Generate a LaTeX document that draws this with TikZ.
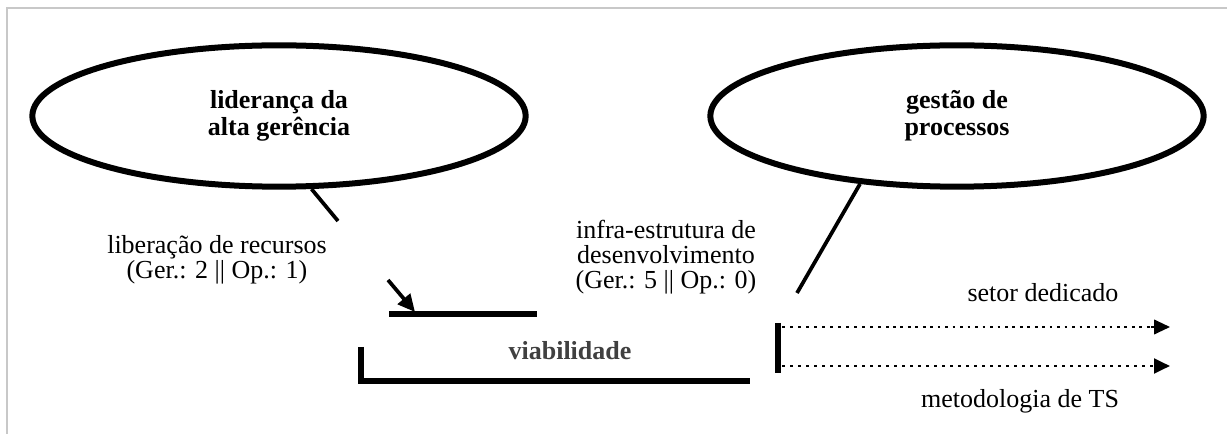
\documentclass[tikz,border=0pt]{standalone}
\usepackage{fontspec}
\setmainfont{Liberation Serif}
\usetikzlibrary{shapes.geometric,arrows.meta}

\tikzset{every picture/.style={line width=0.75pt}}
\tikzset{
  bubble/.style={draw,ellipse,line width=4.5pt,inner sep=0pt,minimum width=370pt,minimum height=106pt,align=center,font=\bfseries\fontsize{19.5}{20.5}\selectfont},
  lbl/.style={inner sep=0pt,align=center,font=\fontsize{19.5}{19}\selectfont},
  tail/.style={line width=2.8pt},
  bar/.style={line width=4.5pt},
  dotline/.style={line width=2.2pt,dash pattern=on 2.2pt off 3.8pt},
  thindot/.style={line width=1.4pt,dash pattern=on 2pt off 3.6pt},
  tip/.style={-{Triangle[length=12pt,width=11pt]}}
}

\begin{document}
\begin{tikzpicture}[x=0.75pt,y=0.75pt,yscale=-1,xscale=1]
\useasboundingbox (0,0) rectangle (1227,434);

%Frame lines
\draw [color={rgb, 255:red, 200; green, 200; blue, 200 }, line width=1.5pt] (7,434) -- (7,8) -- (1227,8) ;

%Shape: Ellipse
\node [bubble] (lead) at (279,116) {lideran\c{c}a da\\alta ger\^encia};
%Shape: Ellipse
\node [bubble] (proc) at (957,116) {gest\~ao de\\processos};

%Callout tails
\coordinate (leadend) at (338,221);
\coordinate (procend) at (797,293);
\draw [tail] (lead.-66) -- (leadend) ;
\draw [tail] (proc.215) -- (procend) ;

% Text Node
\node [lbl] (rec) at (217,260) {libera\c{c}\~ao de recursos\\(Ger.: 2 || Op.: 1)};
% Text Node
\node [lbl] (infra) at (666,257) {infra-estrutura de\\desenvolvimento\\(Ger.: 5 || Op.: 0)};

%Arrow to viability line
\coordinate (arrstart) at (388,280);
\coordinate (arrend) at (415,312);
\draw [line width=2.8pt,-{Triangle[length=13pt,width=12pt]}] (arrstart) -- (arrend) ;
\coordinate (topl) at (389,314);
\coordinate (topr) at (537,314);
\draw [bar] (topl) -- (topr) ;

% Text Node
\node [inner sep=0pt,font=\bfseries\fontsize{19.5}{20}\selectfont,color={rgb, 255:red, 64; green, 64; blue, 64 }] (viab) at (570,351) {viabilidade};

%Bracket
\coordinate (brtop) at (361,347);
\coordinate (brcorner) at (361,381);
\coordinate (brend) at (750,381);
\draw [bar] (brtop) -- (brcorner) -- (brend) ;

%Vertical bar and dotted arrows
\coordinate (vtop) at (778,323);
\coordinate (vbot) at (778,373);
\draw [bar] (vtop) -- (vbot) ;
\coordinate (s1) at (782,327);
\coordinate (s1mid) at (893,327);
\coordinate (s1end) at (1170,327);
\coordinate (s2) at (782,366);
\coordinate (s2end) at (1170,366);
\draw [dotline] (s1) -- (s1mid) ;
\draw [thindot] (s1mid) -- ([xshift=-12]s1end) ;
\draw [line width=1.4pt,tip] ([xshift=-14]s1end) -- (s1end) ;
\draw [dotline,tip] (s2) -- (s2end) ;

% Text Node
\node [lbl] (setor) at (1043,293) {setor dedicado};
% Text Node
\node [lbl] (metod) at (1020,401) {metodologia de TS};

\end{tikzpicture}
\end{document}
